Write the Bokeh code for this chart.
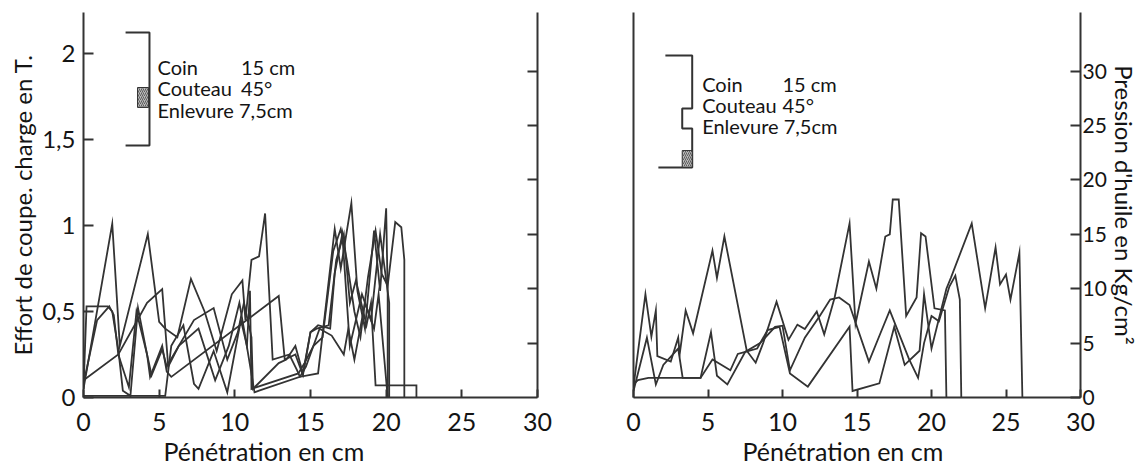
from bokeh.plotting import figure
from bokeh.layouts import row
from bokeh.models import Range1d, LinearAxis, FixedTicker, Title, Label
from bokeh.embed import file_html
from bokeh.resources import INLINE

FONT = "Lato"
INK = "#333333"
TXT = "#141414"

# ---------------- data: left panel (effort de coupe, T) ----------------
l1_x = [0, 1.9, 2.4, 4.25, 5.0, 5.4, 6.2, 7.1, 8.0, 8.8, 9.8, 10.5, 10.7, 11.1, 11.6, 12.0, 12.5, 13.6, 14.1, 14.3, 15.5, 16.6, 17.0, 17.7, 18.1, 18.6, 19.2, 19.6, 20.0, 20.1, 20.1]
l1_y = [0.05, 1.01, 0.30, 0.95, 0.44, 0.40, 0.35, 0.69, 0.50, 0.27, 0.60, 0.68, 0.45, 0.80, 0.82, 1.07, 0.22, 0.25, 0.16, 0.12, 0.14, 0.98, 0.75, 1.13, 0.62, 0.40, 0.97, 0.62, 1.10, 0.60, 0.0]

l2_x = [0, 0.2, 1.6, 1.9, 2.3, 2.6, 3.1, 3.6, 4.2, 4.5, 5.2, 5.5, 7.3, 8.6, 9.5, 10.2, 10.6, 11.1, 11.2, 12.9, 13.4, 14.0, 14.5, 15.0, 15.4, 16.2, 16.7, 17.2, 17.6, 18.0, 18.7, 19.0, 19.3, 22.0, 22.0]
l2_y = [0.05, 0.53, 0.53, 0.50, 0.28, 0.04, 0.01, 0.52, 0.25, 0.13, 0.28, 0.18, 0.45, 0.52, 0.22, 0.38, 0.55, 0.35, 0.05, 0.20, 0.22, 0.30, 0.14, 0.38, 0.40, 0.42, 0.80, 0.95, 0.55, 0.68, 0.42, 0.55, 0.07, 0.07, 0.0]

l3_x = [0, 5.4, 5.8, 6.6, 7.3, 7.6, 8.6, 9.5, 10.4, 10.8, 11.0, 11.1, 14.2, 14.6, 15.2, 15.8, 16.5, 17.0, 17.4, 17.9, 18.3, 18.8, 19.3, 19.7, 20.1, 20.6, 21.0, 21.2, 21.2]
l3_y = [0.01, 0.01, 0.30, 0.42, 0.08, 0.05, 0.27, 0.03, 0.45, 0.30, 0.62, 0.05, 0.14, 0.20, 0.30, 0.35, 0.85, 0.98, 0.80, 0.50, 0.35, 0.70, 0.97, 0.72, 0.65, 1.02, 0.99, 0.80, 0.0]

l4_x = [0, 0.9, 1.7, 2.0, 2.3, 3.0, 3.5, 4.2, 4.4, 5.2, 5.5, 5.8, 12.9, 13.3, 14.0, 14.5, 15.0, 15.5, 16.3, 16.6, 17.1, 17.6, 18.4, 19.0, 19.6, 20.2, 20.2]
l4_y = [0.08, 0.45, 0.53, 0.48, 0.25, 0.06, 0.50, 0.25, 0.12, 0.30, 0.15, 0.12, 0.59, 0.22, 0.25, 0.13, 0.38, 0.42, 0.40, 0.72, 0.95, 0.30, 0.60, 0.45, 0.95, 0.55, 0.0]

l5_x = [0, 2.3, 4.2, 5.2, 5.6, 6.3, 7.6, 8.7, 9.6, 10.3, 10.6, 11.3, 11.6, 14.3, 14.7, 15.6, 16.4, 17.2, 17.5, 17.9, 18.6, 19.2, 19.5, 20.1]
l5_y = [0.10, 0.25, 0.55, 0.63, 0.18, 0.30, 0.40, 0.10, 0.30, 0.55, 0.40, 0.03, 0.04, 0.12, 0.18, 0.40, 0.36, 0.25, 0.40, 0.22, 0.55, 0.40, 0.60, 0.0]

# ---------------- data: right panel (pression d'huile, kg/cm2) ----------------
r1_x = [0, 0.8, 1.2, 1.5, 1.6, 2.5, 3.0, 3.1, 3.5, 4.0, 5.3, 5.6, 6.1, 7.6, 8.2, 8.7, 9.6, 10.4, 11.0, 11.5, 12.3, 12.8, 13.5, 14.5, 14.9, 15.8, 16.3, 16.9, 17.2, 17.4, 17.8, 18.3, 19.0, 19.3, 19.6, 20.2, 20.9, 21.0]
r1_y = [1.0, 9.5, 5.6, 8.0, 3.8, 3.3, 5.5, 4.0, 8.0, 5.9, 13.5, 11.0, 14.8, 4.3, 3.2, 5.0, 8.8, 5.3, 6.7, 6.3, 7.9, 5.8, 9.2, 16.0, 6.8, 12.5, 10.0, 14.8, 15.0, 18.2, 18.2, 7.5, 9.2, 15.1, 14.8, 8.2, 8.0, 0]

r2_x = [0, 0.3, 1.0, 4.5, 5.3, 6.5, 7.0, 7.5, 8.5, 9.5, 10.0, 10.5, 11.5, 12.5, 13.2, 13.8, 14.5, 15.8, 16.6, 17.2, 18.5, 19.1, 19.5, 20.0, 20.5, 21.2, 21.6, 21.9, 22.0]
r2_y = [1.2, 1.6, 1.8, 1.8, 3.5, 2.5, 4.0, 4.2, 5.0, 6.5, 6.6, 2.5, 5.5, 7.5, 9.0, 9.2, 8.5, 3.3, 6.0, 8.0, 3.5, 1.8, 5.0, 7.5, 7.0, 10.2, 11.2, 9.0, 0]

r3_x = [0, 0.9, 1.5, 2.0, 3.0, 3.3, 4.5, 5.2, 5.6, 6.3, 7.5, 8.3, 9.0, 9.8, 10.5, 11.7, 14.5, 14.7, 16.5, 17.5, 18.2, 19.2, 19.5, 20.0, 21.0, 21.3, 22.7, 23.6, 24.3, 24.6, 25.0, 25.3, 25.9, 26.1]
r3_y = [0.6, 5.5, 1.2, 3.0, 4.5, 1.8, 1.8, 6.0, 2.0, 1.2, 4.2, 4.5, 6.2, 6.5, 2.2, 1.0, 6.5, 0.6, 1.3, 6.5, 3.0, 4.3, 9.5, 4.5, 10.0, 11.0, 16.0, 8.2, 13.8, 10.4, 11.3, 9.0, 13.3, 0]

x_ticks = [0, 5, 10, 15, 20, 25, 30]
effort_ticks = [0, 0.5, 1, 1.5, 2]
effort_labels = {0: "0", 0.5: "0,5", 1: "1", 1.5: "1,5", 2: "2"}
pression_ticks = [0, 5, 10, 15, 20, 25, 30]

legend_rows = ["Coin", "Couteau", "Enlevure 7,5cm"]
legend_vals = ["15 cm", "45°", ""]

EFF_TOP = 2.238
PR_TOP = 35.39


def style_xaxis(ax):
    ax.ticker = FixedTicker(ticks=x_ticks)
    ax.axis_line_color = INK
    ax.axis_line_width = 2
    ax.major_tick_line_color = INK
    ax.major_tick_line_width = 2
    ax.major_tick_in = 8
    ax.major_tick_out = 0
    ax.minor_tick_line_color = None
    ax.major_label_text_font = FONT
    ax.major_label_text_font_size = "25px"
    ax.major_label_text_color = TXT
    ax.major_label_standoff = 15


def base_fig(width, mbl, mbr, y_end, y_loc, title_offset):
    p = figure(width=width, height=468, x_range=Range1d(0, 30), y_range=Range1d(0, y_end),
               output_backend="svg", toolbar_location=None, y_axis_location=y_loc,
               min_border_left=mbl, min_border_right=mbr, min_border_top=12, min_border_bottom=71)
    p.outline_line_color = None
    p.xgrid.grid_line_color = None
    p.ygrid.grid_line_color = None
    p.background_fill_color = "white"
    p.border_fill_color = "white"
    style_xaxis(p.xaxis[0])
    p.add_layout(Title(text="Pénétration en cm", align="left", offset=title_offset, text_font=FONT,
                       text_font_size="25px", text_font_style="normal", text_color=TXT, standoff=0), "below")
    return p


# ---------------- left figure ----------------
pl = base_fig(575, 83, 38, EFF_TOP, "left", 80)
ya = pl.yaxis[0]
ya.ticker = FixedTicker(ticks=effort_ticks)
ya.major_label_overrides = effort_labels
ya.axis_line_color = INK
ya.axis_line_width = 2
ya.major_tick_line_color = INK
ya.major_tick_line_width = 2
ya.major_tick_in = 10
ya.major_tick_out = 0
ya.minor_tick_line_color = None
ya.major_label_text_font = FONT
ya.major_label_text_font_size = "24px"
ya.major_label_text_color = TXT
ya.major_label_standoff = 8
ya.axis_label = "Effort de coupe. charge en T."
ya.axis_label_text_font = FONT
ya.axis_label_text_font_size = "24px"
ya.axis_label_text_font_style = "normal"
ya.axis_label_text_color = TXT
ya.axis_label_standoff = 2

pl.extra_y_ranges = {"pr": Range1d(0, PR_TOP)}
ra = LinearAxis(y_range_name="pr", ticker=FixedTicker(ticks=pression_ticks[1:]),
                axis_line_color=INK, axis_line_width=2, major_tick_line_color=INK,
                major_tick_line_width=2, major_tick_in=10, major_tick_out=0,
                minor_tick_line_color=None, major_label_text_color=None)
pl.add_layout(ra, "right")

for xs, ys in [(l1_x, l1_y), (l2_x, l2_y), (l3_x, l3_y), (l4_x, l4_y), (l5_x, l5_y)]:
    pl.line(xs, ys, line_color=INK, line_width=1.8, line_join="miter")

# legend bracket (left)
pl.line([2.78, 4.36, 4.36, 2.78], [2.122, 2.122, 1.465, 1.465], line_color=INK, line_width=2)
pl.quad(left=3.57, right=4.30, bottom=1.686, top=1.802, fill_color="#bbbbbb", line_color=INK,
        line_width=1, hatch_pattern="/", hatch_color=INK, hatch_scale=4, hatch_weight=0.7)
for i, (t, v) in enumerate(zip(legend_rows, legend_vals)):
    yy = 1.924 - i * 0.127
    pl.add_layout(Label(x=4.89, y=yy, text=t, text_font=FONT, text_font_size="20px",
                        text_baseline="middle", text_color=TXT))
    if v:
        pl.add_layout(Label(x=10.4, y=yy, text=v, text_font=FONT, text_font_size="20px",
                            text_baseline="middle", text_color=TXT))

# ---------------- right figure ----------------
pr = base_fig(566, 58, 59, PR_TOP, "right", 109)
yb = pr.yaxis[0]
yb.ticker = FixedTicker(ticks=pression_ticks)
yb.axis_line_color = INK
yb.axis_line_width = 2
yb.major_tick_line_color = INK
yb.major_tick_line_width = 2
yb.major_tick_in = 10
yb.major_tick_out = 0
yb.minor_tick_line_color = None
yb.major_label_text_font = FONT
yb.major_label_text_font_size = "21px"
yb.major_label_text_color = TXT
yb.major_label_standoff = 2
yb.axis_label = "Pression d'huile en Kg/cm²"
yb.axis_label_text_font = FONT
yb.axis_label_text_font_size = "24px"
yb.axis_label_text_font_style = "normal"
yb.axis_label_text_color = TXT
yb.axis_label_standoff = 0

la = LinearAxis(ticker=FixedTicker(ticks=[]), axis_line_color=INK, axis_line_width=2,
                major_tick_line_color=None, minor_tick_line_color=None, major_label_text_color=None)
pr.add_layout(la, "left")

for xs, ys in [(r1_x, r1_y), (r2_x, r2_y), (r3_x, r3_y)]:
    pr.line(xs, ys, line_color=INK, line_width=1.8, line_join="miter")

# legend bracket (right)
pr.line([2.14, 3.94, 3.94, 3.27, 3.27, 3.94, 3.94, 1.67],
        [31.43, 31.43, 26.56, 26.56, 24.72, 24.72, 21.14, 21.14], line_color=INK, line_width=2)
pr.quad(left=3.27, right=3.94, bottom=21.14, top=22.7, fill_color="#bbbbbb", line_color=INK,
        line_width=1, hatch_pattern="/", hatch_color=INK, hatch_scale=4, hatch_weight=0.7)
for i, (t, v) in enumerate(zip(legend_rows, legend_vals)):
    yy = 28.86 - i * 1.93
    pr.add_layout(Label(x=4.61, y=yy, text=t, text_font=FONT, text_font_size="20px",
                        text_baseline="middle", text_color=TXT))
    if v:
        pr.add_layout(Label(x=10.0, y=yy, text=v, text_font=FONT, text_font_size="20px",
                            text_baseline="middle", text_color=TXT))

layout = row(pl, pr)
open("out.html", "w").write(file_html(layout, INLINE))
